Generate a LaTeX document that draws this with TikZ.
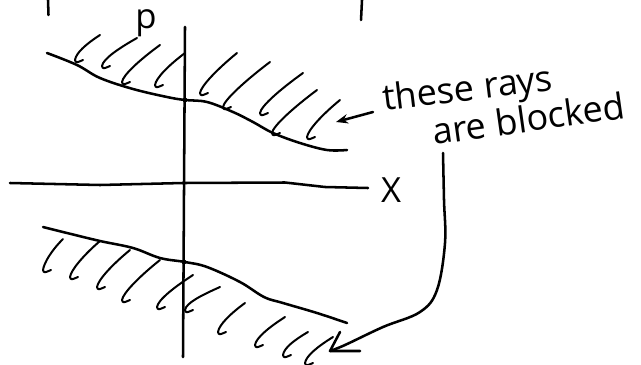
\documentclass[tikz,border=0pt]{standalone}
\usepackage{fontspec}
\setmainfont{Open Sans}
\usetikzlibrary{calc,arrows.meta}
\tikzset{
  hand/.style={line width=1.9pt, line cap=round, line join=round},
  thin hand/.style={line width=1.5pt, line cap=round, line join=round},
  label/.style={inner sep=0pt, font=\fontsize{27}{27}\selectfont},
}
\begin{document}
\begin{tikzpicture}[x=0.75pt,y=-0.75pt]
\useasboundingbox (0,0) rectangle (641,364);
% ticks from previous figure
\draw[hand] (48,0) -- (48.5,15);
\draw[hand] (362,0) -- (361,20);
% axes
\coordinate (vtop) at (185,27);
\coordinate (vbot) at (183,357);
\draw[hand] (vtop) -- (vbot);
\coordinate (hl) at (10,183);
\coordinate (hr) at (368,188);
\draw[hand] (hl) -- (100,185) -- (183,183) -- (285,182.5) -- (325,187) -- (hr);
\node[label, font=\fontsize{26}{26}\selectfont, anchor=base] (xlab) at (391,202) {X};
\node[label, font=\fontsize{26}{26}\selectfont, anchor=base] (plab) at (146,28) {p};
% upper boundary
\draw[hand] plot[smooth, tension=0.6] coordinates {(47,53) (77,65) (100,78) (133,89) (167,97) (185,100) (207,102) (233,112) (253,122) (273,133) (300,143) (327,150) (347,150)};
\fill (185,100) circle (2.4);
% lower boundary
\draw[hand] plot[smooth, tension=0.6] coordinates {(43,227) (67,233) (100,241) (133,248) (160,258) (185,262) (207,267) (240,282) (264,297) (283,303) (317,313) (347,323)};
\fill (184,262) circle (2.4);
\fill (183,183) circle (1.6);
% hatches
\foreach \xa/\ya/\xb/\yb in {100/35/75/60, 137/38/102/66, 160/45/122/82, 185/53/155/85, 237/53/200/93, 270/62/223/107, 303/73/260/113, 317/90/272/133, 340/100/307/137,
  63/239/43/270, 100/241/70/277, 130/250/97/287, 160/260/122/300, 193/275/157/307, 220/287/185/310, 245/303/218/332, 285/317/255/345, 308/332/283/355, 333/337/305/363}{
  \draw[thin hand] (\xa,\ya) .. controls ($(\xa,\ya)!0.45!(\xb,\yb)+(-3,-2)$) and ($(\xb,\yb)+(1,-7)$) .. (\xb,\yb) .. controls ($(\xb,\yb)+(1,3)$) .. ($(\xb,\yb)+(8,0)$);
}
% text
\node[label, anchor=base west, rotate=7] (t1) at (384,111) {these rays};
\node[label, anchor=base west, rotate=8] (t2) at (434,145) {are blocked};
% small arrow
\coordinate (sa) at (373,112);
\coordinate (sb) at (336,122);
\draw[hand, -{Stealth[length=9pt,width=7pt]}] (sa) -- (sb);
% big arrow
\coordinate (ba) at (443,153);
\coordinate (tip) at (330,351);
\draw[hand] plot[smooth, tension=0.6] coordinates {(443,153) (444,200) (445,243) (437,290) (420,312) (383,327) (345,345) (tip)};
\draw[hand] (340,332) -- (tip) -- (360,351);
\end{tikzpicture}
\end{document}
